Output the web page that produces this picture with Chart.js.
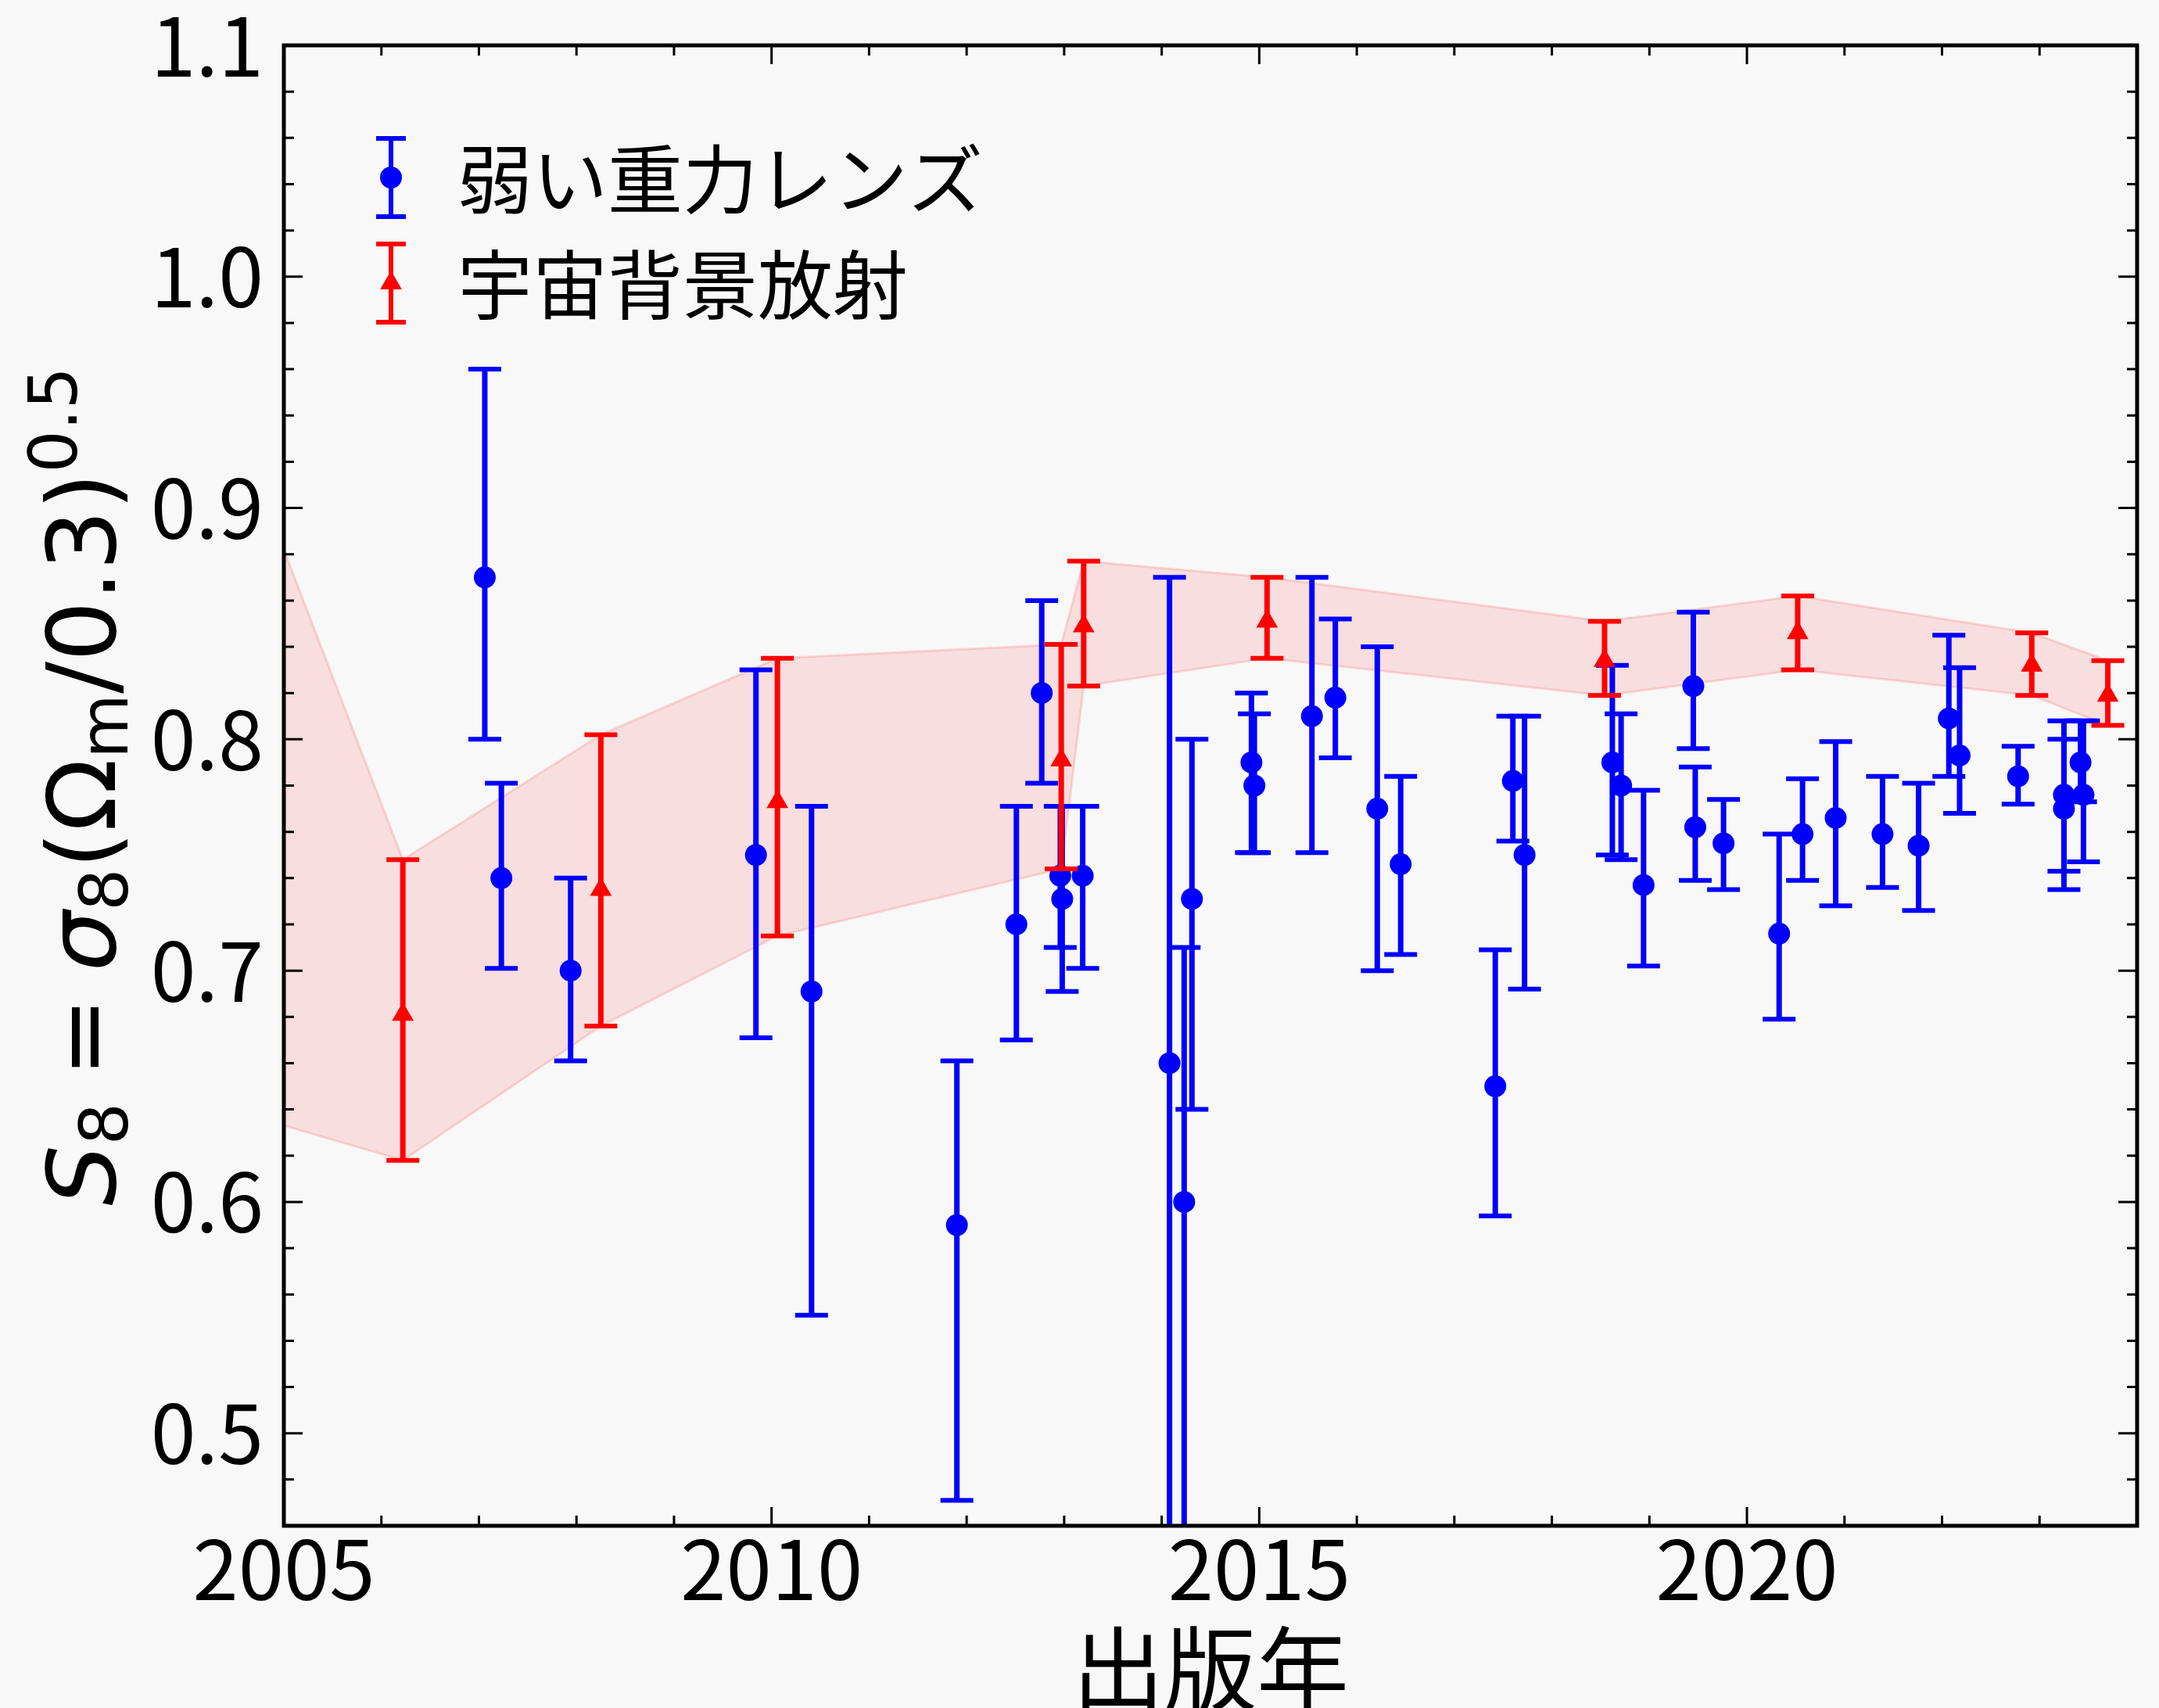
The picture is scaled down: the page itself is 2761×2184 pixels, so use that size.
<!DOCTYPE html>
<html lang="ja">
<head>
<meta charset="utf-8">
<title>S8</title>
<script src="https://cdn.jsdelivr.net/npm/chart.js@4.4.1/dist/chart.umd.min.js"></script>
<style>
  html, body { margin: 0; padding: 0; background: #f8f8f8; }
  canvas { display: block; }
</style>
</head>
<body>
<canvas id="s8Chart" width="2761" height="2184"></canvas>
<script>
// 弱い重力レンズ
var wlYear = [2007.06, 2007.23, 2007.94, 2009.84, 2010.41, 2011.90, 2012.51, 2012.77, 2012.96, 2012.98,
  2013.19, 2014.08, 2014.23, 2014.31, 2014.92, 2014.95, 2015.54, 2015.78, 2016.21, 2016.45,
  2017.42, 2017.60, 2017.72, 2018.62, 2018.71, 2018.94, 2019.45, 2019.47, 2019.76, 2020.33,
  2020.57, 2020.91, 2021.39, 2021.76, 2022.07, 2022.18, 2022.78, 2023.25, 2023.25, 2023.42, 2023.45];
var wlS8 = [0.870, 0.740, 0.700, 0.750, 0.691, 0.590, 0.720, 0.820, 0.741, 0.731,
  0.741, 0.660, 0.600, 0.731, 0.790, 0.780, 0.810, 0.818, 0.770, 0.746,
  0.650, 0.782, 0.750, 0.790, 0.780, 0.737, 0.823, 0.762, 0.755, 0.716,
  0.759, 0.766, 0.759, 0.754, 0.809, 0.793, 0.784, 0.776, 0.770, 0.790, 0.776];
var wlLow = [0.800, 0.701, 0.661, 0.671, 0.551, 0.471, 0.670, 0.781, 0.710, 0.691,
  0.701, 0.400, 0.400, 0.640, 0.751, 0.751, 0.751, 0.792, 0.700, 0.707,
  0.594, 0.756, 0.692, 0.750, 0.748, 0.702, 0.796, 0.739, 0.735, 0.679,
  0.739, 0.728, 0.736, 0.726, 0.784, 0.768, 0.772, 0.743, 0.735, 0.773, 0.747];
var wlHigh = [0.960, 0.781, 0.740, 0.830, 0.771, 0.661, 0.771, 0.860, 0.771, 0.771,
  0.771, 0.870, 0.710, 0.800, 0.820, 0.811, 0.870, 0.852, 0.840, 0.784,
  0.709, 0.810, 0.810, 0.832, 0.811, 0.778, 0.855, 0.788, 0.774, 0.759,
  0.783, 0.799, 0.784, 0.781, 0.845, 0.831, 0.797, 0.808, 0.800, 0.808, 0.808];

// 宇宙背景放射
var cmbYear = [2006.22, 2008.25, 2010.06, 2012.97, 2013.20, 2015.08, 2018.54, 2020.52, 2022.92, 2023.70];
var cmbS8 = [0.681, 0.735, 0.773, 0.791, 0.849, 0.851, 0.834, 0.846, 0.832, 0.819];
var cmbLow = [0.618, 0.676, 0.715, 0.744, 0.823, 0.835, 0.819, 0.830, 0.819, 0.806];
var cmbHigh = [0.748, 0.802, 0.835, 0.841, 0.877, 0.870, 0.851, 0.862, 0.846, 0.834];

// the shaded band runs in from beyond the left edge; its edges where it meets 2005
var bandEdgeYear = 2005;
var bandEdgeHigh = 0.882;
var bandEdgeLow = 0.633;

var xTicks = [2005, 2010, 2015, 2020];
var yTicks = [0.5, 0.6, 0.7, 0.8, 0.9, 1.0, 1.1];
var xMinorStep = 1;
var yMinorStep = 0.02;

var FONT = '"Noto Sans CJK JP", "Noto Sans", sans-serif';
var MATH = '"DejaVu Sans", sans-serif';

function pts(xs, ys) {
  return xs.map(function (x, i) { return { x: x, y: ys[i] }; });
}

var bandYears = [bandEdgeYear].concat(cmbYear);

// background
var paper = {
  id: 'paper',
  beforeDraw: function (chart) {
    var ctx = chart.ctx;
    ctx.save();
    ctx.fillStyle = '#f8f8f8';
    ctx.fillRect(0, 0, chart.width, chart.height);
    ctx.restore();
  }
};

// error bars, drawn just under each point dataset
var errorBars = {
  id: 'errorBars',
  beforeDatasetDraw: function (chart, args) {
    var ds = chart.data.datasets[args.index];
    if (!ds.errLow) return;
    var ctx = chart.ctx, ys = chart.scales.y, a = chart.chartArea;
    ctx.save();
    ctx.beginPath();
    ctx.rect(a.left, a.top, a.right - a.left, a.bottom - a.top);
    ctx.clip();
    ctx.strokeStyle = ds.borderColor;
    args.meta.data.forEach(function (pt, i) {
      var lo = ys.getPixelForValue(ds.errLow[i]);
      var hi = ys.getPixelForValue(ds.errHigh[i]);
      ctx.lineWidth = 7;
      ctx.beginPath();
      ctx.moveTo(pt.x, lo);
      ctx.lineTo(pt.x, hi);
      ctx.stroke();
      ctx.lineWidth = 6;
      ctx.beginPath();
      ctx.moveTo(pt.x - 21, lo); ctx.lineTo(pt.x + 21, lo);
      ctx.moveTo(pt.x - 21, hi); ctx.lineTo(pt.x + 21, hi);
      ctx.stroke();
    });
    ctx.restore();
  }
};

// frame, inward ticks, axis titles, legend
var decor = {
  id: 'decor',
  afterDraw: function (chart) {
    var ctx = chart.ctx, a = chart.chartArea;
    var xs = chart.scales.x, ys = chart.scales.y;
    ctx.save();
    ctx.strokeStyle = '#000';
    ctx.lineWidth = 3;
    var v, p, len;
    for (v = xs.min; v <= xs.max + 1e-9; v += xMinorStep) {
      p = xs.getPixelForValue(v);
      len = Math.abs(v % 5) < 1e-6 ? 24 : 13;
      ctx.beginPath();
      ctx.moveTo(p, a.bottom); ctx.lineTo(p, a.bottom - len);
      ctx.moveTo(p, a.top); ctx.lineTo(p, a.top + len);
      ctx.stroke();
    }
    for (var k = Math.round(ys.min / yMinorStep); k * yMinorStep <= ys.max + 1e-9; k++) {
      v = k * yMinorStep;
      p = ys.getPixelForValue(v);
      len = k % 5 === 0 ? 24 : 13;
      ctx.beginPath();
      ctx.moveTo(a.left, p); ctx.lineTo(a.left + len, p);
      ctx.moveTo(a.right, p); ctx.lineTo(a.right - len, p);
      ctx.stroke();
    }
    ctx.lineWidth = 5;
    ctx.strokeRect(a.left, a.top, a.right - a.left, a.bottom - a.top);

    // x title
    ctx.fillStyle = '#000';
    ctx.font = '118px ' + FONT;
    ctx.textAlign = 'center';
    ctx.textBaseline = 'middle';
    ctx.fillText('出版年', (a.left + a.right) / 2, 2134);

    // y title with sub/superscripts (math-style font)
    var base = 122;
    var runs = [
      { t: 'S', it: true, s: 1, d: 0 },
      { t: '8', s: 0.7, d: 0.13 },
      { t: '=', s: 1, d: 0, pre: 0.27, pad: 0.27 },
      { t: 'σ', it: true, s: 1, d: 0 },
      { t: '8', s: 0.7, d: 0.13 },
      { t: '(Ω', s: 1, d: 0 },
      { t: 'm', s: 0.7, d: 0.13 },
      { t: '/0.3)', s: 1, d: 0 },
      { t: '0.5', s: 0.7, d: -0.4 }
    ];
    function fontOf(r) { return (r.it ? 'italic ' : '') + Math.round(base * r.s) + 'px ' + MATH; }
    var total = 0;
    runs.forEach(function (r) {
      ctx.font = fontOf(r);
      r.w = ctx.measureText(r.t).width + ((r.pad || 0) + (r.pre || 0)) * base;
      total += r.w;
    });
    ctx.save();
    ctx.translate(147, (a.top + a.bottom) / 2 + 1);
    ctx.rotate(-Math.PI / 2);
    ctx.textAlign = 'left';
    ctx.textBaseline = 'alphabetic';
    var cx = -total / 2;
    runs.forEach(function (r) {
      ctx.font = fontOf(r);
      ctx.fillText(r.t, cx + (r.pre || 0) * base, r.d * base);
      cx += r.w;
    });
    ctx.restore();

    // legend
    var items = [
      { ds: chart.data.datasets[0], y: 227 },
      { ds: chart.data.datasets[1], y: 362 }
    ];
    items.forEach(function (it) {
      var col = it.ds.borderColor, ix = 500;
      ctx.strokeStyle = col;
      ctx.lineWidth = 6;
      ctx.beginPath();
      ctx.moveTo(ix, it.y - 50); ctx.lineTo(ix, it.y + 50);
      ctx.moveTo(ix - 19, it.y - 50); ctx.lineTo(ix + 19, it.y - 50);
      ctx.moveTo(ix - 19, it.y + 50); ctx.lineTo(ix + 19, it.y + 50);
      ctx.stroke();
      ctx.fillStyle = col;
      Chart.helpers.drawPoint(ctx, { pointStyle: it.ds.pointStyle, radius: it.ds.pointRadius, rotation: 0, borderWidth: 0 }, ix, it.y);
      ctx.fillStyle = '#000';
      ctx.font = '96px ' + FONT;
      ctx.textAlign = 'left';
      ctx.textBaseline = 'middle';
      ctx.fillText(it.ds.label, 585, it.y + 2);
    });
    ctx.restore();
  }
};

var ctx = document.getElementById('s8Chart').getContext('2d');
var s8Chart = new Chart(ctx, {
  type: 'scatter',
  data: {
    datasets: [
      {
        label: '弱い重力レンズ',
        data: pts(wlYear, wlS8),
        errLow: wlLow,
        errHigh: wlHigh,
        pointStyle: 'circle',
        pointRadius: 14,
        backgroundColor: '#0000ff',
        borderColor: '#0000ff',
        borderWidth: 0,
        order: 2,
      },
      {
        label: '宇宙背景放射',
        data: pts(cmbYear, cmbS8),
        errLow: cmbLow,
        errHigh: cmbHigh,
        pointStyle: 'triangle',
        pointRadius: 16,
        backgroundColor: '#ff0000',
        borderColor: '#ff0000',
        borderWidth: 0,
        order: 1,
      },
      {
        label: 'band upper',
        data: pts(bandYears, [bandEdgeHigh].concat(cmbHigh)),
        showLine: true,
        fill: '+1',
        pointRadius: 0,
        borderColor: 'rgba(255, 0, 0, 0.13)',
        borderWidth: 3,
        backgroundColor: 'rgba(255, 0, 0, 0.1)',
        order: 10,
      },
      {
        label: 'band lower',
        data: pts(bandYears, [bandEdgeLow].concat(cmbLow)),
        showLine: true,
        fill: false,
        pointRadius: 0,
        borderColor: 'rgba(255, 0, 0, 0.13)',
        borderWidth: 3,
        order: 11,
      },
    ],
  },
  options: {
    responsive: false,
    animation: false,
    devicePixelRatio: 1,
    layout: { padding: { top: 58, right: 28, bottom: 0, left: 0 } },
    plugins: { legend: { display: false }, tooltip: { enabled: false } },
    scales: {
      x: {
        type: 'linear',
        min: 2005,
        max: 2024,
        grid: { display: false, drawTicks: false },
        border: { display: false },
        afterBuildTicks: function (scale) { scale.ticks = xTicks.map(function (v) { return { value: v }; }); },
        afterFit: function (scale) {
          scale.height = 233;
          scale.paddingLeft = 0;
          scale.paddingRight = 0;
        },
        ticks: {
          color: '#000',
          padding: -8,
          maxRotation: 0,
          font: { family: FONT, size: 105 },
          callback: function (v) { return String(v); },
        },
      },
      y: {
        type: 'linear',
        min: 0.46,
        max: 1.1,
        grid: { display: false, drawTicks: false },
        border: { display: false },
        afterBuildTicks: function (scale) { scale.ticks = yTicks.map(function (v) { return { value: v }; }); },
        afterFit: function (scale) {
          scale.width = 363;
          scale.paddingTop = 0;
          scale.paddingBottom = 0;
        },
        ticks: {
          color: '#000',
          padding: 26,
          font: { family: FONT, size: 104 },
          callback: function (v) { return v.toFixed(1); },
        },
      },
    },
  },
  plugins: [paper, errorBars, decor],
});
</script>
</body>
</html>
